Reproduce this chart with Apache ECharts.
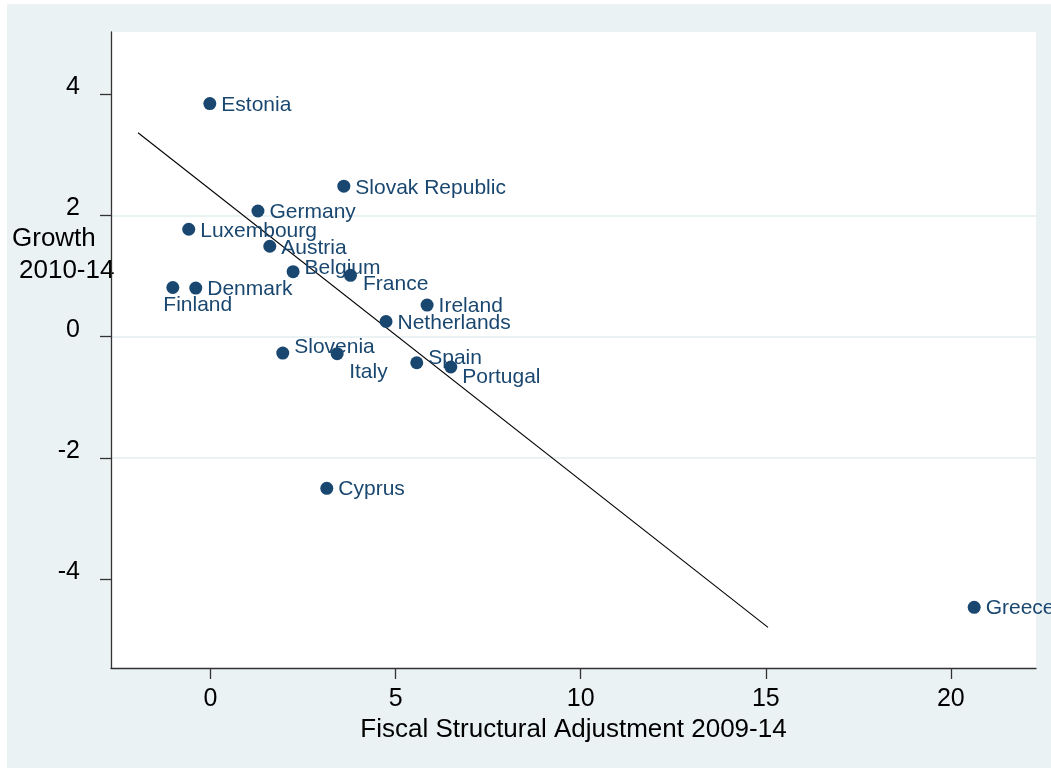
<!DOCTYPE html>
<html>
<head>
<meta charset="utf-8">
<script src="https://cdn.jsdelivr.net/npm/echarts@6/dist/echarts.min.js"></script>
<style>
html,body{margin:0;padding:0;background:#ffffff;}
#chart{width:1051px;height:768px;}
</style>
</head>
<body>
<div id="chart"></div>
<script>
// ---- data ----
var countries = ['Estonia','Slovak Republic','Germany','Luxembourg','Austria','Belgium','France','Finland','Denmark','Ireland','Netherlands','Slovenia','Italy','Spain','Portugal','Cyprus','Greece'];
var adjustment = [-0.02, 3.60, 1.28, -0.59, 1.60, 2.23, 3.78, -1.02, -0.40, 5.85, 4.74, 1.95, 3.42, 5.57, 6.49, 3.14, 20.63];
var growth = [3.84, 2.48, 2.07, 1.77, 1.49, 1.07, 1.01, 0.81, 0.80, 0.52, 0.25, -0.27, -0.28, -0.43, -0.50, -2.50, -4.46];
var fitX = [-1.96, 15.06];
var fitY = [3.36, -4.79];
var xTicks = [0, 5, 10, 15, 20];
var yTicks = [-4, -2, 0, 2, 4];

// ---- label placement (style) ----
var labelOffsets = {
  'Estonia':[0,1.5], 'Slovak Republic':[0,2], 'Germany':[0,1], 'Luxembourg':[0,2],
  'Austria':[0,2], 'Belgium':[0,-4], 'France':[1,8.5], 'Finland':[-21,17.5],
  'Denmark':[0,1], 'Ireland':[0,1], 'Netherlands':[0,1.5], 'Slovenia':[0,-5.5],
  'Italy':[0.5,19], 'Spain':[0,-5], 'Portugal':[0,10], 'Cyprus':[0,1], 'Greece':[0,0.5]
};

var navy = '#1a476f';
var font = '"Liberation Sans", Arial, Helvetica, sans-serif';

var pts = countries.map(function(c, i){
  return { name: c, value: [adjustment[i], growth[i]] };
});
var fitData = fitX.map(function(x, i){ return [x, fitY[i]]; });

var chart = echarts.init(document.getElementById('chart'), null, {renderer:'canvas'});
chart.setOption({
  animation: false,
  backgroundColor: 'transparent',
  graphic: [
    { type:'rect', z:-10, silent:true, shape:{x:7,y:4,width:1044,height:764}, style:{fill:'#eaf2f3'} },
    { type:'text', left:12, top:226, style:{text:'Growth', font:'26px ' + font, fill:'#000'} },
    { type:'text', left:19, top:258, style:{text:'2010-14', font:'26px ' + font, fill:'#000'} }
  ],
  grid: {
    left: 111, top: 32, right: 15, bottom: 100,
    show: true, backgroundColor: '#ffffff', borderWidth: 0
  },
  xAxis: {
    type: 'value',
    min: -2.69, max: 22.3,
    name: 'Fiscal Structural Adjustment 2009-14',
    nameLocation: 'middle',
    nameGap: 42,
    nameTextStyle: { fontSize: 26, fontFamily: font, color: '#000' },
    axisLine: { show: true, onZero: false, lineStyle: { color: '#333', width: 1.3 } },
    axisTick: { show: true, length: 11, customValues: xTicks, lineStyle: { color: '#333', width: 1.3 } },
    axisLabel: { customValues: xTicks, fontSize: 25, fontFamily: font, color: '#000', margin: 19 },
    splitLine: { show: false }
  },
  yAxis: {
    type: 'value',
    min: -5.46, max: 5.02,
    splitNumber: 5,
    axisLine: { show: true, onZero: false, lineStyle: { color: '#333', width: 1.3 } },
    axisTick: { show: true, length: 11, customValues: yTicks, lineStyle: { color: '#333', width: 1.3 } },
    axisLabel: { customValues: yTicks, fontSize: 25, fontFamily: font, color: '#000', margin: 31, verticalAlign: 'bottom', lineHeight: 14 },
    splitLine: { show: true, showMinLine: false, showMaxLine: false, lineStyle: { color: '#eaf2f3', width: 2 } }
  },
  series: [
    {
      type: 'line',
      data: fitData,
      symbol: 'none',
      lineStyle: { color: '#000', width: 1.1 },
      z: 2,
      silent: true
    },
    {
      type: 'scatter',
      data: pts,
      symbol: 'circle',
      symbolSize: 13,
      itemStyle: { color: navy, opacity: 1 },
      z: 3,
      label: {
        show: true,
        position: 'right',
        distance: 5,
        formatter: '{b}',
        fontSize: 21,
        fontFamily: font,
        color: navy
      },
      labelLayout: function (params) {
        var off = labelOffsets[countries[params.dataIndex]] || [0, 0];
        return { dx: off[0], dy: off[1] };
      }
    }
  ]
});
</script>
</body>
</html>
